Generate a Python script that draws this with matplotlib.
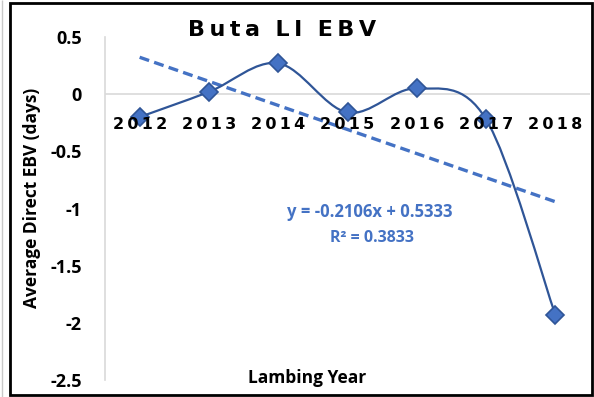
import matplotlib
matplotlib.use("Agg")
import matplotlib.pyplot as plt
import numpy as np
from matplotlib.path import Path
from matplotlib.patches import PathPatch, Rectangle

years = ["2012", "2013", "2014", "2015", "2016", "2017", "2018"]
ebv = [-0.20, 0.02, 0.27, -0.16, 0.05, -0.22, -1.93]
slope, intercept = -0.2106, 0.5333
r2 = 0.3833
yticks = [0.5, 0, -0.5, -1, -1.5, -2, -2.5]

blue = "#4472C4"
dark_blue = "#2F5597"
thin = "\u2009"

fig = plt.figure(figsize=(5.94, 3.97), dpi=100)
ax = fig.add_axes([105 / 594, 17 / 397, 485 / 594, 343 / 397])

x = np.arange(1, len(years) + 1)
y = np.array(ebv)

# Smoothed connecting line (Catmull-Rom style cubic Bezier segments)
verts = [(x[0], y[0])]
codes = [Path.MOVETO]
n = len(x)
for i in range(n - 1):
    p0 = np.array([x[max(i - 1, 0)], y[max(i - 1, 0)]])
    p1 = np.array([x[i], y[i]])
    p2 = np.array([x[i + 1], y[i + 1]])
    p3 = np.array([x[min(i + 2, n - 1)], y[min(i + 2, n - 1)]])
    c1 = p1 + (p2 - p0) / 6
    c2 = p2 - (p3 - p1) / 6
    verts += [tuple(c1), tuple(c2), tuple(p2)]
    codes += [Path.CURVE4] * 3
ax.add_patch(PathPatch(Path(verts, codes), facecolor="none",
                       edgecolor=dark_blue, lw=1.6, zorder=3))
ax.plot(x, y, linestyle="none", marker="D", markersize=9,
        markerfacecolor=blue, markeredgecolor=dark_blue, markeredgewidth=1.2,
        zorder=4)

# Linear trendline
tx = np.array([x[0], x[-1]])
ax.plot(tx, slope * tx + intercept, linestyle=(0, (3, 1.6)), color=blue,
        lw=2.4, zorder=2)

ax.set_xlim(0.5, n + 0.5)
ax.set_ylim(-2.5, 0.5)

# Category axis crossing at zero
ax.axhline(0, color="#D9D9D9", lw=1.2, zorder=1)
for s in ["top", "right", "bottom"]:
    ax.spines[s].set_visible(False)
ax.spines["left"].set_color("#D9D9D9")
ax.spines["left"].set_linewidth(1.2)

ax.set_xticks([])
for xi, lab in zip(x, years):
    ax.text(xi, -0.265, thin.join(lab), ha="center", va="center",
            fontsize=11.5, fontweight="bold", family="DejaVu Sans",
            zorder=5)

ax.set_yticks(yticks)
ax.set_yticklabels(["0.5", "0", "-0.5", "-1", "-1.5", "-2", "-2.5"],
                   fontsize=13, fontweight="bold", family="Open Sans")
ax.tick_params(axis="y", length=0, pad=16.5)

fig.text(32 / 594, 1 - 198 / 397, "Average Direct EBV (days)", rotation=90,
         ha="center", va="center", fontsize=12.5, fontweight="bold",
         family="Open Sans")
fig.text(307 / 594, 1 - 378 / 397, "Lambing Year", ha="center", va="center",
         fontsize=12.5, fontweight="bold", family="Open Sans")
fig.text(282 / 594, 1 - 30 / 397, thin.join("Buta") + "  " + thin.join("LI")
         + "  " + thin.join("EBV"), ha="center",
         va="center", fontsize=16, fontweight="bold", family="DejaVu Sans")

fig.text(370 / 594, 1 - 212 / 397,
         f"y = {slope}x + {intercept}", ha="center", va="center",
         fontsize=12, fontweight="bold", color=blue, family="Open Sans")
fig.text(372 / 594, 1 - 238 / 397, f"R² = {r2}", ha="center", va="center",
         fontsize=11.5, fontweight="bold", color=blue, family="Open Sans")

# Chart border
fig.patches.append(Rectangle((10 / 594, 2 / 397), 582 / 594, 392 / 397,
                             transform=fig.transFigure, fill=False,
                             edgecolor="black", lw=2))
fig.patches.append(Rectangle((2 / 594, 0), 0, 1, transform=fig.transFigure,
                             fill=False, edgecolor="#C8C8C8", lw=1))

fig.savefig("out.png", dpi=100)
